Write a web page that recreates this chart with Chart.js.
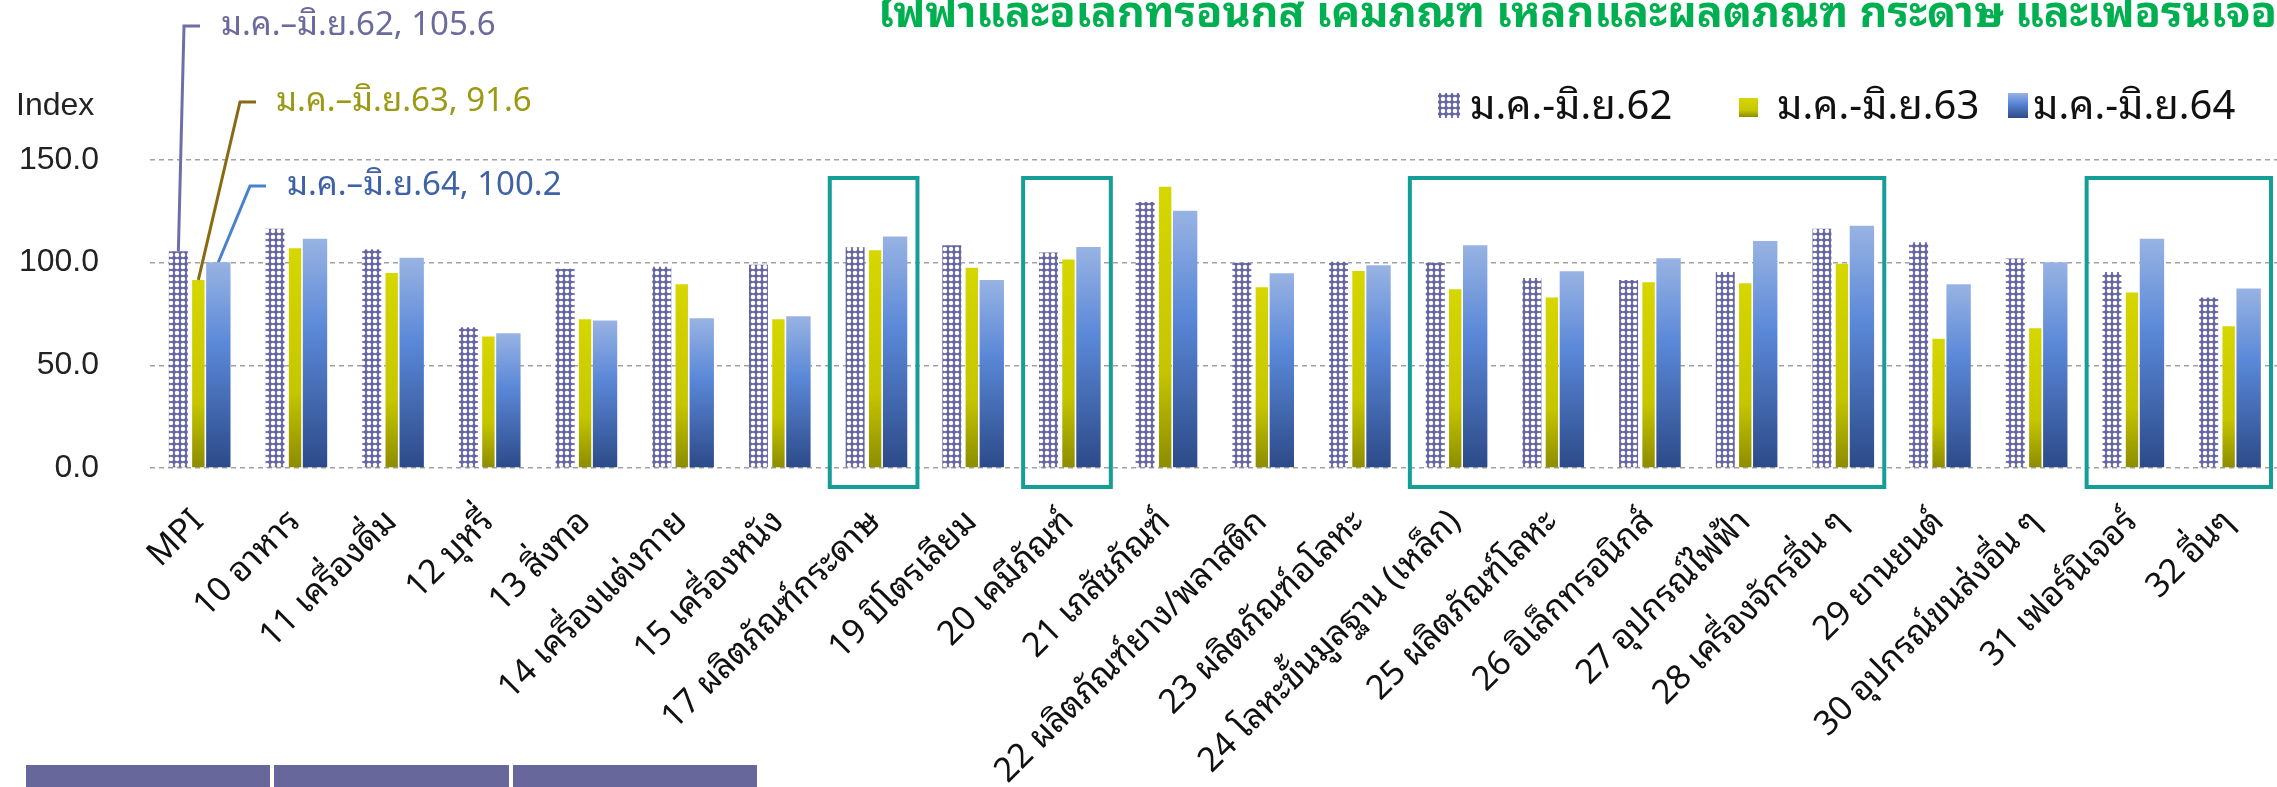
<!DOCTYPE html>
<html lang="th">
<head>
<meta charset="utf-8">
<title>MPI</title>
<script src="https://cdn.jsdelivr.net/npm/chart.js@4.4.1/dist/chart.umd.min.js"></script>
<style>
  html, body { margin: 0; padding: 0; background: #fff; }
  #wrap { position: relative; width: 2277px; height: 787px; overflow: hidden; }
  #chart { position: absolute; left: 0; top: 0; }
  .headline {
    position: absolute; left: 878px; top: -27px; white-space: nowrap;
    font: bold 43px Tahoma, "Noto Sans Thai Looped", "Noto Sans Thai", Garuda, Loma, sans-serif;
    color: #00b050;
  }
  .tablebar { position: absolute; top: 765px; height: 30px; background: #67679b; }
</style>
</head>
<body>
<div id="wrap">
  <canvas id="chart" width="2277" height="787"></canvas>
  <div class="headline">ไฟฟ้าและอิเล็กทรอนิกส์ เคมีภัณฑ์ เหล็กและผลิตภัณฑ์ กระดาษ และเฟอร์นิเจอร์</div>
  <div class="tablebar" style="left:26px;width:244px"></div>
  <div class="tablebar" style="left:274px;width:235px"></div>
  <div class="tablebar" style="left:513px;width:244px"></div>
</div>
<script>
// --- Data ---
const categories = [
    'MPI', '10 อาหาร', '11 เครื่องดื่ม', '12 บุหรี่', '13 สิ่งทอ', '14 เครื่องแต่งกาย',
    '15 เครื่องหนัง', '17 ผลิตภัณฑ์กระดาษ', '19 ปิโตรเลียม', '20 เคมีภัณฑ์', '21 เภสัชภัณฑ์',
    '22 ผลิตภัณฑ์ยาง/พลาสติก', '23 ผลิตภัณฑ์อโลหะ', '24 โลหะขั้นมูลฐาน (เหล็ก)', '25 ผลิตภัณฑ์โลหะ',
    '26 อิเล็กทรอนิกส์', '27 อุปกรณ์ไฟฟ้า', '28 เครื่องจักรอื่น ๆ', '29 ยานยนต์',
    '30 อุปกรณ์ขนส่งอื่น ๆ', '31 เฟอร์นิเจอร์', '32 อื่นๆ'
];
const seriesNames = ['ม.ค.-มิ.ย.62', 'ม.ค.-มิ.ย.63', 'ม.ค.-มิ.ย.64'];
const h1_2562 = [105.6, 116.5, 106.5, 68.5, 97, 98, 99, 107.5, 108.5, 105, 129.5, 100, 100.5, 100, 92.5, 91.5, 95.5, 116.5, 110, 102, 95.5, 83];
const h1_2563 = [91.6, 107, 95, 64, 72.5, 89.5, 72.5, 106, 97.5, 101.5, 137, 88, 96, 87, 83, 90.5, 90, 99.5, 63, 68, 85.5, 69];
const h1_2564 = [100.2, 111.6, 102.4, 65.6, 71.8, 72.9, 73.9, 112.7, 91.6, 107.6, 125.3, 94.8, 98.8, 108.5, 95.8, 102.2, 110.6, 118, 89.5, 100.2, 111.6, 87.4];
const yTicks = [0, 50, 100, 150];
// industries boxed in teal (first and last category index of each box)
const highlightGroups = [[7, 7], [9, 9], [13, 17], [20, 21]];

const THAI = 'Tahoma, "Noto Sans Thai Looped", "Noto Sans Thai", Garuda, Loma, sans-serif';
const LATIN = '"Liberation Sans", Arial, sans-serif';

const YELLOW_STOPS = [[0, '#d6d600'], [0.65, '#c6c600'], [1, '#8c8c00']];
const BLUE_STOPS = [[0, '#98b3e3'], [0.4, '#5a88d8'], [1, '#2c4a88']];

function latticePattern() {
    const tile = document.createElement('canvas');
    tile.width = 6; tile.height = 6;
    const g = tile.getContext('2d');
    g.fillStyle = '#6666a4';
    g.fillRect(0, 0, 6, 6);
    g.fillStyle = '#ffffff';
    g.beginPath();
    g.arc(3, 3, 2.25, 0, Math.PI * 2);
    g.fill();
    return g.createPattern(tile, 'repeat');
}
const lattice = latticePattern();

function gradientFill(c, top, bottom, stops) {
    const g = c.createLinearGradient(0, top, 0, bottom);
    stops.forEach(([o, col]) => g.addColorStop(o, col));
    return g;
}

// per-bar vertical gradient, from the bar top down to zero
function barGradient(stops) {
    return (ctx) => {
        const chart = ctx.chart;
        const y = chart.scales.y;
        if (!chart.chartArea || !y || ctx.type !== 'data') return stops[1][1];
        return gradientFill(chart.ctx, y.getPixelForValue(ctx.raw), y.getPixelForValue(0), stops);
    };
}

// --- Overlay: boxes, MPI callouts, legend, axis caption ---
const overlay = {
    id: 'overlay',
    afterDatasetsDraw(chart) {
        const c = chart.ctx;
        const x = chart.scales.x;
        const half = (x.getPixelForValue(1) - x.getPixelForValue(0)) / 2;

        // teal boxes
        c.save();
        c.strokeStyle = '#159d97';
        c.lineWidth = 4;
        highlightGroups.forEach(([a, b]) => {
            const left = x.getPixelForValue(a) - half + 3;
            const right = x.getPixelForValue(b) + half - 6;
            c.strokeRect(left, 178, right - left, 309);
        });
        c.restore();

        // callouts for the MPI group
        const callouts = [
            { ds: 0, text: '#6a6a9c', line: '#6f6fa8', tx: 221, ty: 26, ex: 184 },
            { ds: 1, text: '#9a9a14', line: '#8a6a10', tx: 276, ty: 102, ex: 240 },
            { ds: 2, text: '#3f62a6', line: '#4a80d2', tx: 287, ty: 186, ex: 250 }
        ];
        c.save();
        c.font = '33px ' + THAI;
        c.textBaseline = 'middle';
        callouts.forEach(o => {
            const bar = chart.getDatasetMeta(o.ds).data[0];
            const value = chart.data.datasets[o.ds].data[0];
            c.strokeStyle = o.line;
            c.lineWidth = 3;
            c.beginPath();
            c.moveTo(bar.x, bar.y);
            c.lineTo(o.ex, o.ty);
            c.lineTo(o.ex + 16, o.ty);
            c.stroke();
            c.fillStyle = o.text;
            c.fillText(seriesNames[o.ds].replace('-', '–') + ', ' + value, o.tx, o.ty);
        });
        c.restore();

        // legend
        c.save();
        c.font = '40px ' + THAI;
        c.textBaseline = 'middle';
        const ly = 108;
        c.fillStyle = lattice;
        c.fillRect(1438, 93, 22, 25);
        c.fillStyle = '#111';
        c.fillText(seriesNames[0], 1470, ly);
        c.fillStyle = gradientFill(c, 98, 117, YELLOW_STOPS);
        c.fillRect(1739, 98, 19, 19);
        c.fillStyle = '#111';
        c.fillText(seriesNames[1], 1777, ly);
        c.fillStyle = gradientFill(c, 93, 118, BLUE_STOPS);
        c.fillRect(2008, 93, 20, 25);
        c.fillStyle = '#111';
        c.fillText(seriesNames[2], 2033, ly);

        // y axis caption
        c.font = '32px ' + LATIN;
        c.fillStyle = '#222';
        c.textAlign = 'left';
        c.fillText('Index', 16, 106);
        c.restore();
    }
};

new Chart(document.getElementById('chart'), {
    type: 'bar',
    data: {
        labels: categories,
        datasets: [
            { label: seriesNames[0], data: h1_2562, backgroundColor: lattice, barPercentage: 0.95, categoryPercentage: 0.62 },
            { label: seriesNames[1], data: h1_2563, backgroundColor: barGradient(YELLOW_STOPS), barPercentage: 0.62, categoryPercentage: 0.62 },
            { label: seriesNames[2], data: h1_2564, backgroundColor: barGradient(BLUE_STOPS), barPercentage: 1.22, categoryPercentage: 0.62 }
        ]
    },
    options: {
        responsive: false,
        animation: false,
        layout: { padding: { top: 160, left: 0, right: 0, bottom: 0 } },
        plugins: { legend: { display: false }, title: { display: false }, tooltip: { enabled: false } },
        scales: {
            x: {
                grid: { display: false },
                border: { display: false },
                ticks: {
                    color: '#111', autoSkip: false, maxRotation: 45, minRotation: 45, padding: 26,
                    font: { family: THAI, size: 34 }
                },
                afterFit: (s) => {
                    s.height = 787 - 468;
                    // bars run edge to edge; rotated labels may overflow
                    s.paddingLeft = 0;
                    s.paddingRight = 0;
                }
            },
            y: {
                min: 0, max: 150,
                afterBuildTicks: (s) => { s.ticks = yTicks.map(v => ({ value: v })); },
                grid: { color: '#a2a2a2', lineWidth: 1.5, drawTicks: false },
                border: { display: false, dash: [5, 4] },
                ticks: {
                    color: '#222', padding: 51,
                    font: { family: LATIN, size: 32 },
                    callback: (v) => v.toFixed(1)
                },
                afterFit: (s) => { s.width = 150; }
            }
        }
    },
    plugins: [overlay]
});
</script>
</body>
</html>
